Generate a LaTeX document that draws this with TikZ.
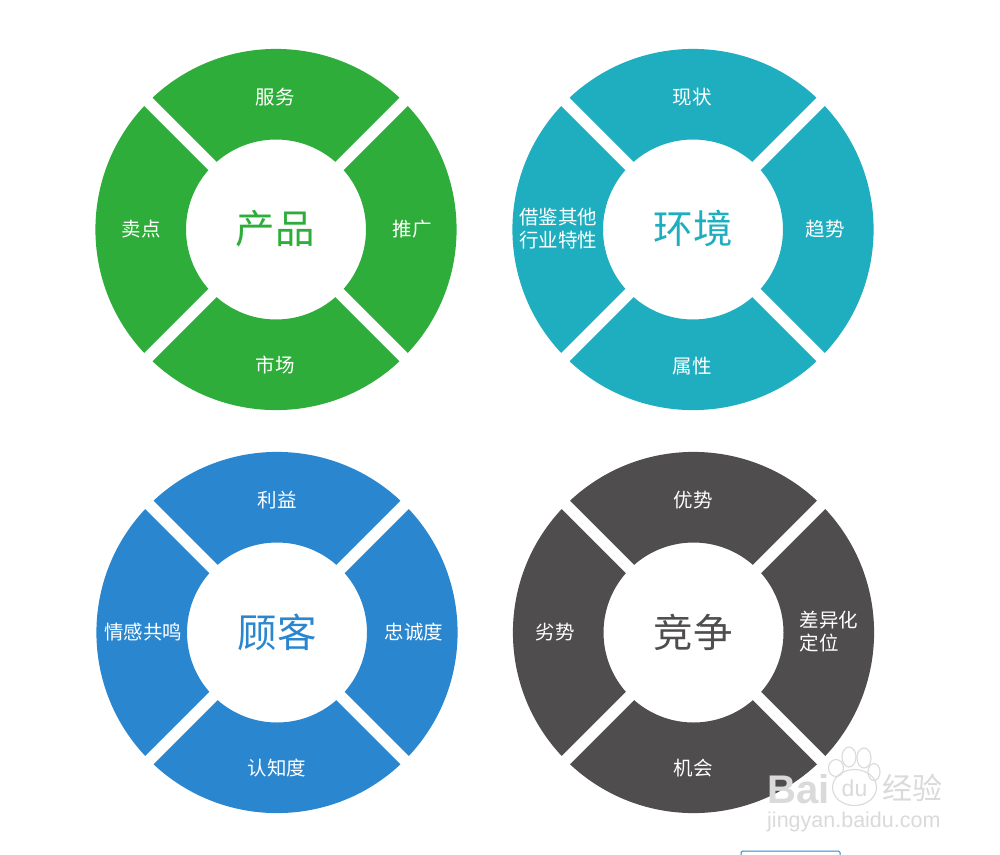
\documentclass[tikz,border=0pt]{standalone}
\usepackage{fontspec}
\setmainfont{Noto Sans CJK SC}
\newfontfamily\latinwm{Liberation Sans}
\newcommand{\ringsector}[3]{% centre, middle angle, colour
  \fill[#3] ($(#1)+(#2-43.1:180.6)$) arc[start angle=#2-43.1,end angle=#2+43.1,radius=180.6pt]
    -- ($(#1)+(#2+41.2:90)$) arc[start angle=#2+41.2,end angle=#2-41.2,radius=90pt] -- cycle;
}
\newcommand{\wheel}[2]{%
  \ringsector{#1}{90}{#2}\ringsector{#1}{180}{#2}\ringsector{#1}{270}{#2}\ringsector{#1}{0}{#2}%
}
\usetikzlibrary{calc}
\definecolor{cgreen}{HTML}{2EAD3A}
\definecolor{cteal}{HTML}{1FAEBF}
\definecolor{cblue}{HTML}{2A86CF}
\definecolor{cdark}{HTML}{4F4D4D}
\definecolor{wm}{HTML}{DADADA}
\tikzset{
  small/.style={text=white,font=\fontsize{19.5}{23}\selectfont,align=center,inner sep=0pt},
  big/.style={font=\fontsize{39.5}{44}\selectfont,inner sep=0pt},
  wmark/.style={text=wm,inner sep=0pt},
  pad/.style={draw=wm,line width=1.1pt},
}
\begin{document}
\begin{tikzpicture}[x=1pt,y=-1pt]
\useasboundingbox (0,0) rectangle (1000,854);
\fill[white] (0,0) rectangle (1000,854);
\coordinate (cg) at (276,229.5);
\coordinate (ct) at (693,229.5);
\coordinate (cb) at (277,632.5);
\coordinate (cd) at (693.5,632.5);
\begin{scope}[y=1pt]
\wheel{cg}{cgreen}
\wheel{ct}{cteal}
\wheel{cb}{cblue}
\wheel{cd}{cdark}
\end{scope}
% green
\node[big,text=cgreen] (g0) at (275,229) {产品};
\node[small] (g1) at (275,97) {服务};
\node[small] (g2) at (141,229) {卖点};
\node[small] (g3) at (412,229) {推广};
\node[small] (g4) at (275,365) {市场};
% teal
\node[big,text=cteal] (t0) at (693,228) {环境};
\node[small] (t1) at (692,97) {现状};
\node[small] (t2) at (558,229) {借鉴其他\\行业特性};
\node[small] (t3) at (825,229) {趋势};
\node[small] (t4) at (692,366) {属性};
% blue
\node[big,text=cblue] (b0) at (277,632) {顾客};
\node[small] (b1) at (277,500) {利益};
\node[small] (b2) at (143,632) {情感共鸣};
\node[small] (b3) at (414,632) {忠诚度};
\node[small] (b4) at (277,768) {认知度};
% dark
\node[big,text=cdark] (d0) at (693,632) {竞争};
\node[small] (d1) at (693,500) {优势};
\node[small] (d2) at (555,632) {劣势};
\node[small,align=left] (d3) at (829,632) {差异化\\定位};
\node[small] (d4) at (693,768) {机会};
% watermark
\node[wmark,font=\latinwm\bfseries\fontsize{40}{40}\selectfont,anchor=base west] (w1) at (767,803) {Bai};
\draw[pad] (836,768) ellipse[x radius=7.5,y radius=8.5];
\draw[pad] (849,757) ellipse[x radius=7,y radius=10];
\draw[pad] (864,758) ellipse[x radius=7,y radius=10];
\draw[pad] (874,772) ellipse[x radius=6,y radius=8.5];
\draw[pad] (854.5,787.5) ellipse[x radius=22,y radius=18];
\node[wmark,font=\latinwm\fontsize{23}{23}\selectfont] (w2) at (854.5,788) {du};
\node[wmark,font=\fontsize{30}{30}\selectfont] (w3) at (912.5,788) {经验};
\node[wmark,font=\latinwm\fontsize{21.5}{22}\selectfont,anchor=base west] (w4) at (767,827) {jingyan.baidu.com};
% clipped box at the lower edge
\draw[cblue,line width=1pt,rounded corners=1.5pt] (741,860) -- (741,851) -- (840,851) -- (840,860);
\end{tikzpicture}
\end{document}
